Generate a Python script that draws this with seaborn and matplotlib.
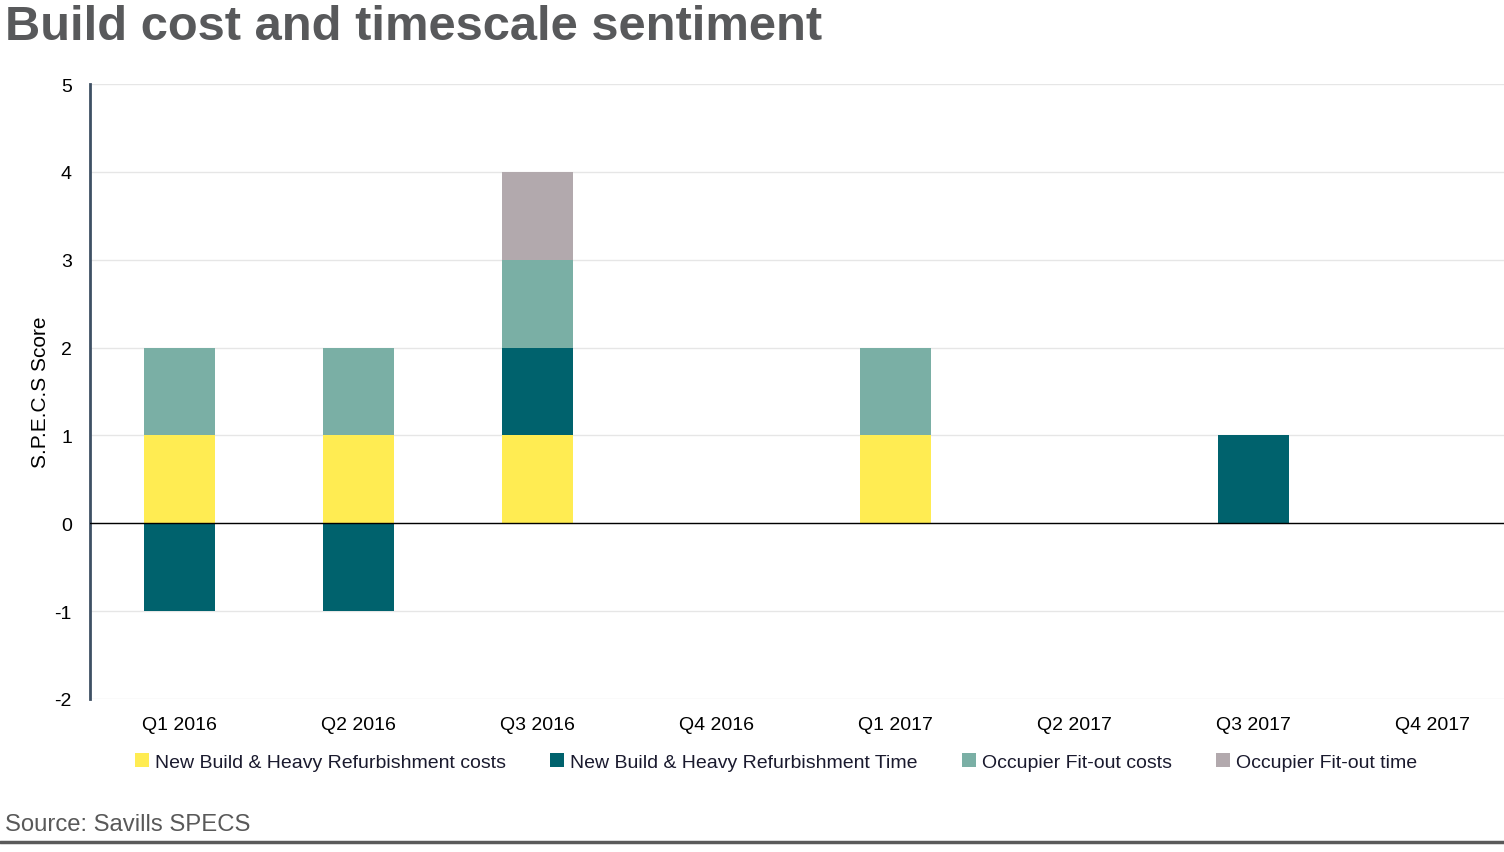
import numpy as np
import pandas as pd
import matplotlib
matplotlib.use("Agg")
import matplotlib.pyplot as plt
import seaborn as sns
from matplotlib.patches import Patch
from matplotlib.lines import Line2D

# Data
quarters = ["Q1 2016", "Q2 2016", "Q3 2016", "Q4 2016", "Q1 2017", "Q2 2017", "Q3 2017", "Q4 2017"]
nb_costs = [1, 1, 1, 0, 1, 0, 0, 0]
nb_time = [-1, -1, 1, 0, 0, 0, 1, 0]
of_costs = [1, 1, 1, 0, 1, 0, 0, 0]
of_time = [0, 0, 1, 0, 0, 0, 0, 0]

series_names = ["New Build & Heavy Refurbishment costs", "New Build & Heavy Refurbishment Time",
                "Occupier Fit-out costs", "Occupier Fit-out time"]
series_vals = [nb_costs, nb_time, of_costs, of_time]
colors = ["#FFEC52", "#00626D", "#7AAFA5", "#B2A9AD"]

sns.set_style("white")
plt.rcParams["font.family"] = ["Liberation Sans", "DejaVu Sans"]
plt.rcParams["axes.unicode_minus"] = False

fig = plt.figure(figsize=(15.04, 8.53), dpi=100)
# axes runs a little past the right edge, as in the original
ax = fig.add_axes([90 / 1504, 1 - 700 / 853, 1432 / 1504, (700 - 85) / 853])

# stacked bars: draw cumulative totals from top series down so lower ones sit on top
vals = np.array(series_vals, dtype=float)
pos_cum = np.cumsum(np.clip(vals, 0, None), axis=0)
neg_cum = np.cumsum(np.clip(vals, None, 0), axis=0)
for k in range(len(series_names) - 1, -1, -1):
    for cum in (pos_cum, neg_cum):
        df = pd.DataFrame({"quarter": quarters, "value": cum[k]})
        sns.barplot(data=df, x="quarter", y="value", order=quarters, color=colors[k],
                    saturation=1, width=0.4, linewidth=0, ax=ax, errorbar=None)

ax.set_xlim(-0.5, 7.5)
ax.set_ylim(-2, 5)
ax.set_yticks(range(-2, 6))
ax.grid(axis="y", color="#e6e6e6", linewidth=1)
ax.set_axisbelow(True)
ax.axhline(0, color="black", linewidth=1, zorder=3)

for s in ["top", "right", "bottom"]:
    ax.spines[s].set_visible(False)
ax.spines["left"].set_color("#3e5064")
ax.spines["left"].set_linewidth(2)

ax.tick_params(axis="both", length=0, labelsize=14, colors="black")
ax.tick_params(axis="y", pad=13)
ax.tick_params(axis="x", pad=12)
ax.set_xlabel("")
ax.set_ylabel("S.P.E.C.S Score", fontsize=15, color="black")
ax.yaxis.set_label_coords(-40 / 1432, 0.5)

handles = [Patch(facecolor=c, edgecolor="none") for c in colors]
leg = fig.legend(handles, series_names, loc="center", bbox_to_anchor=(0.516, 1 - 763 / 853),
                 ncol=4, frameon=False, fontsize=14, handlelength=0.7, handleheight=0.7,
                 handletextpad=0.3, columnspacing=2.3)
for t in leg.get_texts():
    t.set_color("#1a1a2e")

fig.text(5 / 1504, 1 - 27 / 853, "Build cost and timescale sentiment", fontsize=35.2,
         fontweight="bold", color="#58595b", va="center", ha="left")
fig.text(5 / 1504, 1 - 825 / 853, "Source: Savills SPECS", fontsize=17.2,
         color="#595959", va="center", ha="left")
fig.add_artist(Line2D([0, 1], [1 - 843 / 853, 1 - 843 / 853], color="#5a5a5a",
                      linewidth=2.5, transform=fig.transFigure))

fig.savefig("out.png", dpi=100)
